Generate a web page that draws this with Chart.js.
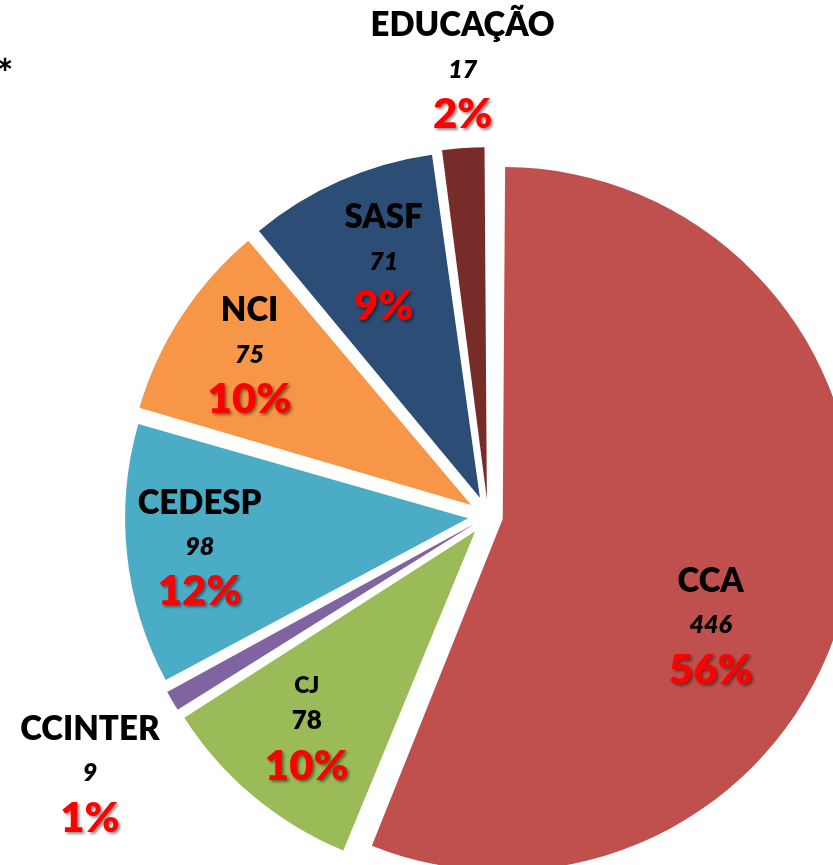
<!DOCTYPE html>
<html>
<head>
<meta charset="utf-8">
<script src="https://cdn.jsdelivr.net/npm/chart.js@4/dist/chart.umd.min.js"></script>
<style>
  html, body { margin: 0; padding: 0; background: #fff; }
  #wrap { position: relative; width: 833px; height: 865px; overflow: hidden; }
</style>
</head>
<body>
<div id="wrap"><canvas id="grafico"></canvas></div>
<script>
// dados
const categorias = ['CCA', 'CJ', 'CCINTER', 'CEDESP', 'NCI', 'SASF', 'EDUCAÇÃO'];
const valores = [446, 78, 9, 98, 75, 71, 17];
const percentuais = ['56%', '10%', '1%', '12%', '10%', '9%', '2%'];
const cores = ['#C0504D', '#9BBB59', '#8064A2', '#4BACC6', '#F79646', '#2C4D75', '#772C2A'];

// "explosão" de cada fatia (o Chart.js desloca offset/4 px)
const explosao = [60, 80, 60, 80, 80, 80, 68];

// onde vai cada rótulo: distância do centro e desvio de ângulo (graus)
const rotuloDist = [248, 273, 474, 290, 288, 275, 447];
const rotuloDesvio = [15, 1.7, -2.5, 0, 1, 1.5, 0.6];

const FONTE = 'Lato, "Open Sans", sans-serif';

const rotulosPlugin = {
    id: 'rotulos',
    afterDraw(chart) {
        const ctx = chart.ctx;
        const meta = chart.getDatasetMeta(0);
        ctx.save();
        ctx.textAlign = 'center';
        ctx.textBaseline = 'middle';

        meta.data.forEach((arc, i) => {
            const mid = (arc.startAngle + arc.endAngle) / 2 + rotuloDesvio[i] * Math.PI / 180;
            const x = arc.x + Math.cos(mid) * rotuloDist[i];
            const y = arc.y + Math.sin(mid) * rotuloDist[i];
            const pequeno = categorias[i] === 'CJ';

            // nome
            ctx.fillStyle = '#000';
            ctx.font = pequeno ? '800 23px ' + FONTE : '800 33px ' + FONTE;
            ctx.fillText(categorias[i], x, y - (pequeno ? 35 : 44));

            // valor
            ctx.font = pequeno ? '800 26px ' + FONTE : 'italic 800 25px ' + FONTE;
            ctx.fillText(String(valores[i]), x, y);

            // percentual, vermelho com sombra
            ctx.save();
            ctx.shadowColor = 'rgba(0,0,0,0.45)';
            ctx.shadowOffsetX = 2;
            ctx.shadowOffsetY = 2;
            ctx.shadowBlur = 3;
            ctx.fillStyle = '#FF0000';
            ctx.font = '800 42px ' + FONTE;
            ctx.fillText(percentuais[i], x, y + (pequeno ? 46 : 45));
            ctx.restore();
        });

        // asterisco no canto
        ctx.fillStyle = '#000';
        ctx.font = '900 38px ' + FONTE;
        ctx.textBaseline = 'alphabetic';
        ctx.fillText('*', 5, 87);
        ctx.restore();
    }
};

new Chart(document.getElementById('grafico'), {
    type: 'pie',
    data: {
        labels: categorias,
        datasets: [{
            data: valores,
            backgroundColor: cores,
            borderWidth: 0,
            offset: explosao,
            clip: false
        }]
    },
    options: {
        responsive: true,
        maintainAspectRatio: false,
        animation: false,
        radius: 337,
        layout: { padding: { left: 143, right: 0, top: 167, bottom: 0 } },
        plugins: {
            legend: { display: false },
            tooltip: { enabled: false }
        }
    },
    plugins: [rotulosPlugin]
});
</script>
</body>
</html>
